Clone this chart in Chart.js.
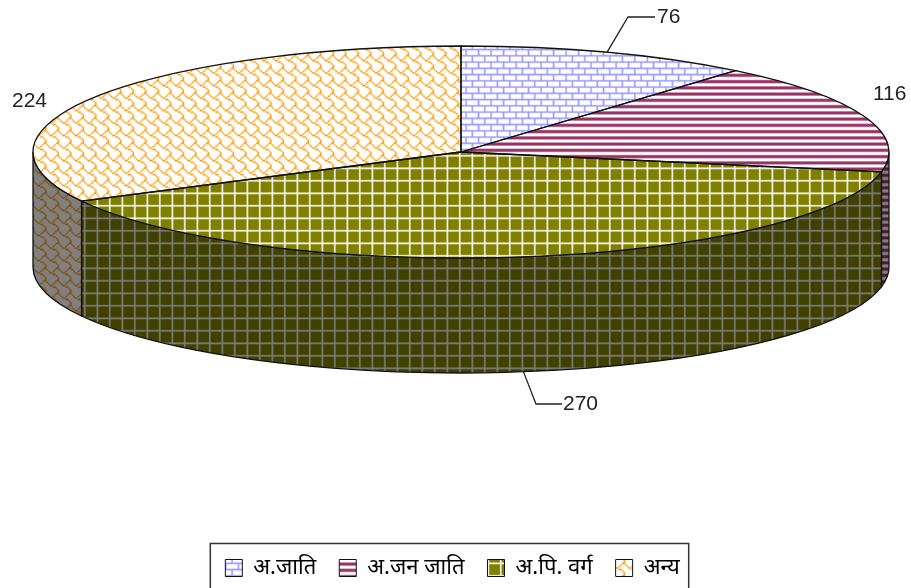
<!DOCTYPE html>
<html lang="hi">
<head>
  <meta charset="UTF-8">
  <title>3D pie</title>
  <script src="https://cdn.jsdelivr.net/npm/chart.js"></script>
  <style>
    html, body { margin: 0; padding: 0; background: #fff; overflow: hidden; }
    canvas { display: block; }
  </style>
</head>
<body>
<canvas id="pie" width="911" height="588"></canvas>

<script>
  // Data
  const categories = ['अ.जाति', 'अ.जन जाति', 'अ.पि. वर्ग', 'अन्य'];
  const values = [76, 116, 270, 224];

  // Pie geometry on the page
  const centerX = 461, centerY = 152, radius = 428, flatten = 106 / 428, depth = 115;
  const hatchX = 9, hatchY = 5; // where the hatch lines start on the page

  // Hatch tiles, 8x8, one row per string, 1 = line colour
  const tiles = {
    brick: ['11111111', '10000000', '10000000', '10000000', '11111111', '00001000', '00001000', '00001000'],
    stripe: ['11111111', '11111111', '00000000', '00000000', '11111111', '11111111', '00000000', '00000000'],
    grid: ['11111111', '10000000', '10000000', '10000000', '10000000', '10000000', '10000000', '10000000'],
    shingle: ['00000011', '10000100', '01001000', '00110000', '00001100', '00000010', '00000001', '00000001']
  };

  // two repeats of the 8x8 tile end up as 25 page pixels (12.5 per tile), smoothed
  function makeHatch(rows, fg, bg) {
    const src = document.createElement('canvas');
    src.width = src.height = 48;
    const sc = src.getContext('2d');
    sc.fillStyle = bg;
    sc.fillRect(0, 0, 48, 48);
    sc.fillStyle = fg;
    for (let y = 0; y < 48; y++) {
      for (let x = 0; x < 48; x++) {
        if (rows[y % 8][x % 8] === '1') sc.fillRect(x, y, 1, 1);
      }
    }
    const t = document.createElement('canvas');
    t.width = t.height = 25;
    const c = t.getContext('2d');
    c.imageSmoothingEnabled = true;
    c.drawImage(src, -25, -25, 75, 75);
    return c.createPattern(t, 'repeat');
  }

  const looks = [
    { tile: tiles.brick, fg: '#9999ff', bg: '#ffffff', wallFg: '#4d4d80', wallBg: '#808080' },
    { tile: tiles.stripe, fg: '#993366', bg: '#ffffff', wallFg: '#4d1a33', wallBg: '#808080' },
    { tile: tiles.grid, fg: '#ffffff', bg: '#808000', wallFg: '#808080', wallBg: '#404000' },
    { tile: tiles.shingle, fg: '#ff9900', bg: '#ffffff', wallFg: '#804c00', wallBg: '#808080' }
  ];

  const topFills = looks.map(l => makeHatch(l.tile, l.fg, l.bg));
  const wallFills = looks.map(l => makeHatch(l.tile, l.wallFg, l.wallBg));
  const legendFills = looks.map(l => makeHatch(l.tile, l.fg, l.bg));

  wallFills.forEach(p => p.setTransform(new DOMMatrix([1, 0, 0, 1, hatchX, hatchY])));

  // Walls under the pie, then squash the context so the library's arcs become an ellipse
  const pie3d = {
    id: 'pie3d',
    beforeDatasetsDraw(chart) {
      const ctx = chart.ctx;
      const arcs = chart.getDatasetMeta(0).data;
      const ry = radius * flatten;
      ctx.save();
      ctx.lineWidth = 1.3;
      ctx.strokeStyle = '#111';
      arcs.forEach((arc, i) => {
        // only the part of the slice that faces the viewer has a wall
        const a0 = Math.max(arc.startAngle, 0);
        const a1 = Math.min(arc.endAngle, Math.PI);
        if (a1 <= a0) return;
        ctx.beginPath();
        ctx.ellipse(centerX, centerY, radius, ry, 0, a0, a1);
        ctx.ellipse(centerX, centerY + depth, radius, ry, 0, a1, a0, true);
        ctx.closePath();
        ctx.fillStyle = wallFills[i];
        ctx.fill();
        ctx.stroke();
      });
      ctx.restore();

      // top face is drawn under the squash, so its pattern is stretched back
      const tx = hatchX - centerX + arcs[0].x;
      const ty = (hatchY - centerY) / flatten + arcs[0].y;
      topFills.forEach(p => p.setTransform(new DOMMatrix([1, 0, 0, 1 / flatten, tx, ty])));

      ctx.save();
      ctx.translate(centerX, centerY);
      ctx.scale(1, flatten);
      ctx.translate(-arcs[0].x, -arcs[0].y);
    },
    afterDatasetsDraw(chart) {
      const ctx = chart.ctx;
      ctx.restore();
      const arcs = chart.getDatasetMeta(0).data;
      const ry = radius * flatten;

      // outlines here so the line width is not squashed
      ctx.save();
      ctx.lineWidth = 1.3;
      ctx.strokeStyle = '#111';
      arcs.forEach(arc => {
        ctx.beginPath();
        ctx.moveTo(centerX, centerY);
        ctx.ellipse(centerX, centerY, radius, ry, 0, arc.startAngle, arc.endAngle);
        ctx.closePath();
        ctx.stroke();
      });

      // value labels and leader lines
      const mid = i => (arcs[i].startAngle + arcs[i].endAngle) / 2;
      const edge = (i, drop) => [centerX + radius * Math.cos(mid(i)), centerY + ry * Math.sin(mid(i)) + drop];
      ctx.lineWidth = 1.3;
      ctx.strokeStyle = '#222';
      [[0, 0, 628, 17, 655], [2, depth, 536, 404, 562]].forEach(([i, drop, ex, ey, endX]) => {
        const [px, py] = edge(i, drop);
        ctx.beginPath();
        ctx.moveTo(px, py);
        ctx.lineTo(ex, ey);
        ctx.lineTo(endX, ey);
        ctx.stroke();
      });
      ctx.fillStyle = '#222';
      ctx.font = '21px "Liberation Sans", Arial, sans-serif';
      ctx.textBaseline = 'middle';
      ctx.textAlign = 'left';
      [[657, 17], [873, 94], [563, 404], [12, 101]].forEach(([x, y], i) => {
        ctx.fillText(String(values[i]), x, y);
      });

      // legend frame, runs off the bottom of the page like the original
      const boxes = chart.legend.legendHitBoxes;
      const left = boxes[0].left - 15;
      const right = boxes[boxes.length - 1].left + boxes[boxes.length - 1].width + 9;
      ctx.lineWidth = 1.5;
      ctx.strokeStyle = '#333';
      ctx.strokeRect(left, 543.5, right - left, 60);
      ctx.restore();
    }
  };

  new Chart(document.getElementById('pie').getContext('2d'), {
    type: 'pie',
    plugins: [pie3d],
    data: {
      labels: categories,
      datasets: [{
        data: values,
        backgroundColor: topFills,
        borderWidth: 0,
        radius: radius,
        clip: false
      }]
    },
    options: {
      responsive: false,
      animation: false,
      events: [],
      layout: { padding: { right: 6, bottom: -1 } },
      plugins: {
        tooltip: { enabled: false },
        legend: {
          position: 'bottom',
          labels: {
            boxWidth: 17,
            boxHeight: 17,
            padding: 23,
            color: '#222',
            font: { family: '"Noto Sans", "Noto Sans Devanagari", "Lohit Devanagari", sans-serif', size: 22 },
            generateLabels: () => categories.map((text, i) => ({
              text,
              fillStyle: legendFills[i],
              strokeStyle: '#111',
              lineWidth: 1,
              hidden: false,
              index: i
            }))
          }
        }
      }
    }
  });
</script>
</body>
</html>
